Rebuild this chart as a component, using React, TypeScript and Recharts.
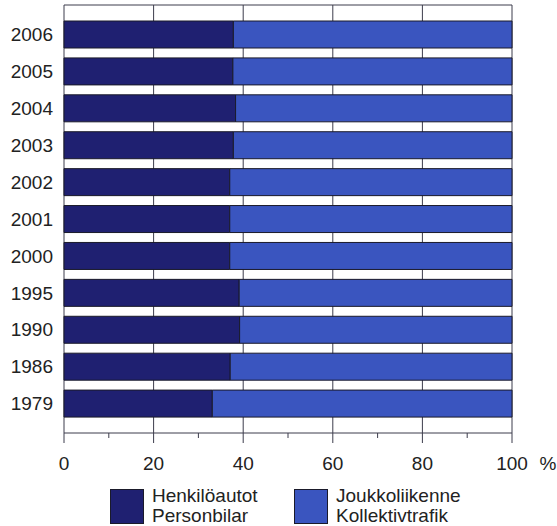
import { BarChart, Bar, XAxis, YAxis, CartesianGrid } from 'recharts'

const years = ['2006', '2005', '2004', '2003', '2002', '2001', '2000', '1995', '1990', '1986', '1979']
const henkiloautot = [37.8, 37.7, 38.3, 37.8, 37.0, 37.0, 37.0, 39.1, 39.2, 37.1, 33.1]
const joukkoliikenne = [62.2, 62.3, 61.7, 62.2, 63.0, 63.0, 63.0, 60.9, 60.8, 62.9, 66.9]
const xTicks = [0, 10, 20, 30, 40, 50, 60, 70, 80, 90, 100]
const seriesNames = ['Henkilöautot\nPersonbilar', 'Joukkoliikenne\nKollektivtrafik']

const data = years.map((year, i) => ({
    year,
    auto: henkiloautot[i],
    kollektiv: joukkoliikenne[i],
}))

const FONT = '"Liberation Sans", Arial, sans-serif'
const DARK = '#1f2071'
const BLUE = '#3a55bf'
const LINE = '#3c3c4c'
const colors = [DARK, BLUE]

const XTick = (props: any) => {
    const { x, y, payload } = props
    const major = payload.value % 20 === 0
    return (
        <g>
            <line x1={x} x2={x} y1={y} y2={y + (major ? 10 : 5)} stroke={LINE} />
            {major && (
                <text x={x} y={y + 24} dy="0.71em" textAnchor="middle" fontSize={19} fill="#222" fontFamily={FONT}>
                    {payload.value}
                </text>
            )}
            {payload.value === 100 && (
                <text x={x + 36} y={y + 24} dy="0.71em" textAnchor="middle" fontSize={19} fill="#222" fontFamily={FONT}>
                    %
                </text>
            )}
        </g>
    )
}

export default function App() {
    return (
        <div style={{ position: 'absolute', left: 0, top: 0, width: 557, height: 526 }}>
            <BarChart
                width={557}
                height={526}
                data={data}
                layout="vertical"
                margin={{ top: 5, right: 45, left: 0, bottom: 53 }}
            >
                <CartesianGrid
                    stroke={LINE}
                    verticalValues={[0, 20, 40, 60, 80, 100]}
                    horizontalCoordinatesGenerator={({ offset }: any) => [offset.top]}
                />
                <XAxis
                    type="number"
                    domain={[0, 100]}
                    ticks={xTicks}
                    interval={0}
                    tickLine={false}
                    tickSize={0}
                    tickMargin={0}
                    height={40}
                    axisLine={{ stroke: LINE }}
                    tick={<XTick />}
                />
                <YAxis
                    type="category"
                    dataKey="year"
                    width={64}
                    tickLine={false}
                    tickSize={0}
                    tickMargin={11}
                    axisLine={false}
                    padding={{ top: 11, bottom: 11 }}
                    tick={{ fontSize: 19, fill: '#222', fontFamily: FONT }}
                />
                <Bar dataKey="auto" stackId="a" fill={DARK} stroke="#1a1a2a" strokeWidth={1} barSize={27} isAnimationActive={false} />
                <Bar dataKey="kollektiv" stackId="a" fill={BLUE} stroke="#1a1a2a" strokeWidth={1} barSize={27} isAnimationActive={false} />
            </BarChart>
            <div style={{ position: 'absolute', top: 486, left: 0, display: 'flex', fontFamily: FONT, fontSize: 19, color: '#222' }}>
                {seriesNames.map((name, i) => (
                    <div key={i} style={{ display: 'flex', alignItems: 'center', marginLeft: i === 0 ? 110 : 30 }}>
                        <div style={{ width: 32, height: 33, background: colors[i], border: '1px solid #1a1a2a' }} />
                        <div style={{ marginLeft: 8, lineHeight: '20px', whiteSpace: 'pre', width: i === 0 ? 112 : 150 }}>
                            {name}
                        </div>
                    </div>
                ))}
            </div>
        </div>
    )
}
